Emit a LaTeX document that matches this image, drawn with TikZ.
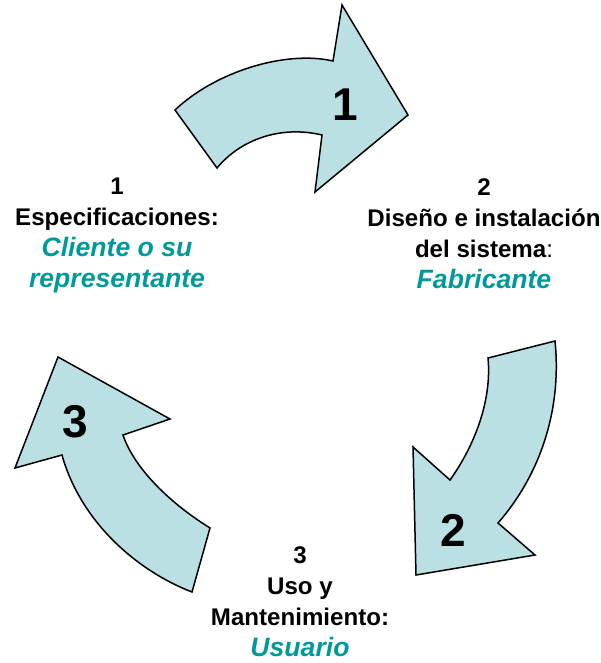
\documentclass[tikz,border=0pt]{standalone}
\usepackage{fontspec}
\setmainfont{Liberation Sans}
\usetikzlibrary{calc}

\definecolor{arrowfill}{RGB}{187,224,227}
\definecolor{roleteal}{RGB}{0,153,153}
\newcommand{\who}[1]{{\color{roleteal}\fontsize{26.6}{31}\selectfont\bfseries\itshape #1}}

\begin{document}
\begin{tikzpicture}[x=1pt, y=-1pt,
    bent/.style={draw=black, fill=arrowfill, line width=1.5pt, line join=miter},
    stepnum/.style={inner sep=0pt, font=\fontsize{46}{46}\selectfont\bfseries},
    phase/.style={align=center, anchor=north, inner sep=0pt, font=\fontsize{24.1}{31}\selectfont\bfseries}]
	\useasboundingbox (0,0) rectangle (600,663);
	
	% arrow 1 (top)
	\coordinate (A1) at (175,110); \coordinate (B1) at (333,61);
	\coordinate (C1) at (342,5); \coordinate (D1) at (408,115);
	\coordinate (E1) at (315,192); \coordinate (F1) at (322,135);
	\coordinate (G1) at (217,168);
	\draw[bent] (A1) .. controls (215,72) and (285,50) .. (B1) -- (C1) -- (D1) -- (E1) -- (F1)
		.. controls (280,125) and (240,140) .. (G1) -- cycle;
	\node[stepnum] (n1) at (345,105) {1};
	
	% arrow 2 (right)
	\coordinate (A2) at (555,341); \coordinate (B2) at (488,358);
	\coordinate (C2) at (450,480); \coordinate (D2) at (413,447);
	\coordinate (E2) at (416,575); \coordinate (F2) at (535,555);
	\coordinate (G2) at (498,523);
	\draw[bent] (A2) -- (B2) .. controls (492,400) and (475,445) .. (C2) -- (D2) -- (E2) -- (F2) -- (G2)
		.. controls (540,475) and (562,410) .. (A2) -- cycle;
	\node[stepnum] (n2) at (453,530) {2};
	
	% arrow 3 (left)
	\coordinate (A3) at (192,592); \coordinate (B3) at (210,528);
	\coordinate (C3) at (123,435); \coordinate (D3) at (170,419);
	\coordinate (E3) at (58,357); \coordinate (F3) at (15,468);
	\coordinate (G3) at (62,455);
	\draw[bent] (A3) -- (B3) .. controls (165,500) and (133,465) .. (C3) -- (D3) -- (E3) -- (F3) -- (G3)
		.. controls (80,520) and (135,570) .. (A3) -- cycle;
	\node[stepnum] (n3) at (75,422) {3};
	
	% labels
	\node[phase] (spec) at (117,178) {1\\Especificaciones:\\\who{Cliente o su}\\\who{representante}};
	\node[phase] (design) at (484,178) {2\\Diseño e instalación\\del sistema{\mdseries :}\\\who{Fabricante}};
	\node[phase] (use) at (300,546) {3\\Uso y\\Mantenimiento:\\\who{Usuario}};
\end{tikzpicture}
\end{document}
